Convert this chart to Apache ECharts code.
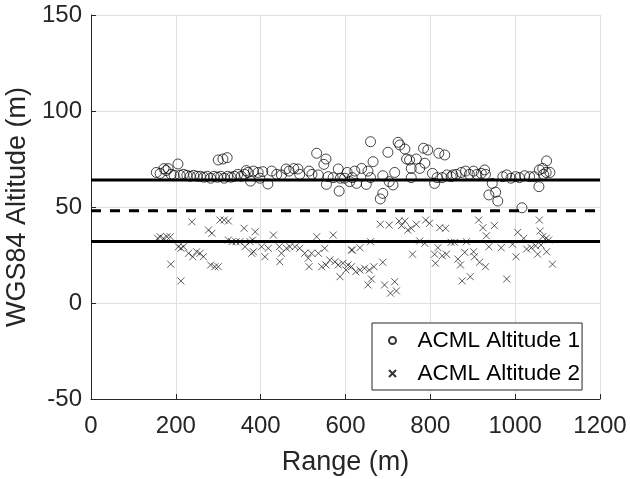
<!DOCTYPE html>
<html>
<head>
<meta charset="utf-8">
<script src="https://cdn.jsdelivr.net/npm/echarts@6/dist/echarts.min.js"></script>
<style>
  html, body { margin: 0; padding: 0; background: #fff; }
  #chart { width: 630px; height: 479px; }
</style>
</head>
<body>
<div id="chart"></div>
<script>
// axis ranges and ticks
const xMin = 0, xMax = 1200, xStep = 200
const yMin = -50, yMax = 150, yStep = 50

// reference levels (solid, dashed, solid)
const upperLevel = 64
const middleLevel = 48
const lowerLevel = 32

// ACML Altitude 1 (range, altitude)
const altitude1 = [
  [154, 68], [163, 67.5], [172, 70], [177, 69], [182, 70], [189, 67], [196, 66.5], [205, 72.4],
  [210, 66.5], [218, 67], [226, 66.5], [234, 66], [242, 66.5], [250, 66], [258, 66], [266, 65.5],
  [274, 66], [282, 65], [290, 66], [298, 65.5], [306, 66], [314, 65], [322, 66], [330, 65.5],
  [338, 66], [346, 67], [354, 66], [362, 67], [370, 68], [376, 63.5], [366, 69],
  [300, 74.5], [311, 75], [321, 75.7],
  [383, 68.7], [394, 68], [405, 68.4], [398, 65], [417, 62], [426, 68.7], [438, 67], [449, 66.7],
  [460, 69.8], [467, 68.7], [478, 70], [488, 69.8], [492, 67], [514, 68.7], [521, 67], [532, 78],
  [554, 75], [549, 72.2], [536, 66.7], [559, 65.8], [555, 61.8], [571, 65.3], [583, 69.8], [585, 58.3],
  [588, 65], [604, 68], [610, 63.2], [598, 65],
  [659, 84], [622, 68.7], [616, 65.3], [638, 70.1], [626, 62.3], [649, 61.8], [653, 68.7], [665, 73.6],
  [659, 65.3], [688, 66.3], [700, 78.5], [703, 63.2], [712, 61.5], [716, 68], [682, 54.2], [688, 57.1],
  [724, 83.7], [728, 82.3], [740, 80.2], [744, 75], [755, 70.1], [751, 74.5], [767, 75], [775, 70.1],
  [787, 72.8], [784, 80.6], [794, 79.7], [820, 78], [834, 77.1], [755, 65.3], [805, 67.5], [810, 62.3],
  [816, 65.3], [828, 65.3], [839, 66.7], [849, 65.8],
  [853, 66.7], [861, 67], [873, 68], [883, 68.7], [892, 67], [902, 68.7], [910, 67], [920, 67.5],
  [928, 69.3], [930, 67], [946, 62.3], [938, 56.3], [954, 57.7], [959, 53.1], [1016, 49.6],
  [971, 65.8], [980, 66.7], [990, 65], [1001, 65.8], [1010, 65.3], [1022, 66.3], [1034, 65.8],
  [1045, 65.8], [1056, 60.6], [1057, 69.3], [1065, 70.1], [1074, 74], [1073, 68], [1082, 68], [1067, 67]
]

// ACML Altitude 2 (range, altitude)
const altitude2 = [
  [157, 33.7], [163, 34.5], [171, 33.7], [179, 34.5], [187, 34.5], [188, 20.2], [206, 29.3], [212, 28.5],
  [218, 29.3], [212, 11.5], [238, 42.3], [230, 25.9], [240, 24.1], [249, 26.7], [257, 25.9], [265, 24.1],
  [277, 38], [285, 36.3], [282, 19.8], [292, 18.9], [300, 18.9], [304, 43.2], [314, 43.2], [324, 42.7],
  [324, 32.8], [332, 31.9], [342, 31.9], [351, 31.9], [361, 38.9], [363, 29.3], [375, 31.9], [379, 25.9],
  [387, 37.1], [381, 32.8], [383, 26.7], [402, 29.3], [410, 24.1], [418, 28.5], [430, 35.4], [444, 29.3],
  [449, 25.9], [445, 21.5], [461, 28.5], [469, 29.3], [481, 29.3], [492, 28.5], [504, 25.9], [512, 23.3],
  [514, 18.9], [520, 25.9], [532, 34.5], [536, 25.9], [551, 28.5], [571, 35.4], [544, 18.9], [554, 19.8],
  [563, 22.4], [575, 21.5], [583, 19.8], [594, 20.7], [601, 17.2], [587, 13.7], [606, 19.8], [614, 27.6],
  [616, 27.6], [634, 28.8], [659, 31.9], [614, 18.9], [624, 16.3], [634, 17.2], [645, 18.1], [656, 17.2],
  [667, 18.9], [688, 21.2], [653, 9.4], [661, 12.5], [692, 9.4], [706, 5.1], [716, 11.1], [720, 6.3],
  [682, 41], [703, 40.6], [726, 42.7], [732, 40.3], [740, 42.7], [747, 38], [755, 38.9], [767, 41],
  [758, 25.4], [775, 32.3], [789, 43.2], [798, 41.5], [787, 31.1], [818, 28.8], [810, 25.4], [812, 20.7],
  [822, 39.2], [836, 38.9], [828, 24.6], [838, 25.4], [849, 31.6],
  [857, 31.6], [885, 31.9], [914, 43.2], [924, 39.2], [951, 40.3], [932, 35], [881, 26.4], [865, 22.9],
  [871, 19.8], [902, 26.7], [904, 24.1], [916, 21.2], [930, 18.9], [875, 11.5], [894, 13.7], [938, 29.3],
  [967, 28.8], [980, 12.5], [994, 30.6], [1002, 24.1], [1006, 36.8], [1020, 33.7], [1027, 28.1], [1038, 28.8],
  [1048, 29.8], [1053, 25.4], [1057, 43.2], [1059, 37.5], [1065, 34.5], [1073, 33.7], [1079, 32.8], [1074, 26.7],
  [1088, 20.2], [1061, 30.2]
]

const ink = '#262626'
const font = 'Liberation Sans, Arial, Helvetica, sans-serif'

const chart = echarts.init(document.getElementById('chart'))

// horizontal level line across the full x range
const levelLine = (level, dashed) => ({
  type: 'line',
  data: [[xMin, level], [xMax, level]],
  showSymbol: false,
  symbol: 'none',
  silent: true,
  animation: false,
  z: 3,
  lineStyle: { color: '#000', width: 3, type: dashed ? [10, 9] : 'solid' }
})

const option = {
  backgroundColor: '#fff',
  animation: false,
  grid: { left: 91, right: 30, top: 15, bottom: 80, outerBoundsMode: 'none', containLabel: false },
  legend: {
    data: ['ACML Altitude 1', 'ACML Altitude 2'],
    orient: 'vertical',
    left: 372,
    top: 323,
    padding: [6, 2, 5, 16],
    itemGap: 10,
    itemWidth: 28,
    itemHeight: 7,
    borderColor: ink,
    borderWidth: 1,
    backgroundColor: '#fff',
    textStyle: { color: '#000', fontSize: 22.5, fontFamily: font, lineHeight: 20, padding: [0, 0, 0, 6] }
  },
  xAxis: {
    type: 'value',
    min: xMin,
    max: xMax,
    interval: xStep,
    name: 'Range (m)',
    nameLocation: 'middle',
    nameGap: 50,
    nameTextStyle: { color: ink, fontSize: 27, fontFamily: font },
    axisLine: { show: true, onZero: false, lineStyle: { color: ink, width: 1 } },
    axisTick: { show: true, inside: true, length: 5, lineStyle: { color: ink } },
    axisLabel: { color: ink, fontSize: 24, fontFamily: font, margin: 15, formatter: v => String(v) },
    splitLine: { show: true, lineStyle: { color: '#e0e0e0', width: 1 } }
  },
  yAxis: {
    type: 'value',
    min: yMin,
    max: yMax,
    interval: yStep,
    name: 'WGS84 Altitude (m)',
    nameLocation: 'middle',
    nameGap: 57,
    nameTextStyle: { color: ink, fontSize: 27, fontFamily: font },
    axisLine: { show: true, onZero: false, lineStyle: { color: ink, width: 1 } },
    axisTick: { show: true, inside: true, length: 5, lineStyle: { color: ink } },
    axisLabel: { color: ink, fontSize: 24, fontFamily: font, margin: 9, formatter: v => String(v) },
    splitLine: { show: true, lineStyle: { color: '#e0e0e0', width: 1 } }
  },
  series: [
    {
      name: 'ACML Altitude 1',
      type: 'scatter',
      data: altitude1,
      symbol: 'circle',
      symbolSize: 10,
      z: 2,
      itemStyle: { color: 'rgba(0,0,0,0)', borderColor: '#000', borderWidth: 0.9 }
    },
    {
      name: 'ACML Altitude 2',
      type: 'scatter',
      data: altitude2,
      symbol: 'path://M0,0L10,10M10,0L0,10',
      symbolSize: 7,
      z: 2,
      itemStyle: { color: 'rgba(0,0,0,0)', borderColor: '#000', borderWidth: 0.8 }
    },
    levelLine(upperLevel, false),
    levelLine(middleLevel, true),
    levelLine(lowerLevel, false)
  ]
}

chart.setOption(option)
</script>
</body>
</html>
